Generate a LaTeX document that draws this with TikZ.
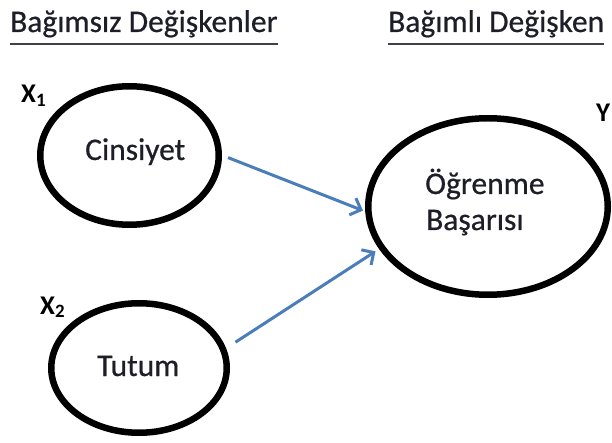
\documentclass[tikz,border=0pt]{standalone}
\usepackage{fontspec}
\setmainfont{Carlito}[FakeBold=0.6,BoldFont=Carlito Bold,BoldFeatures={FakeBold=0}]
\usetikzlibrary{shapes.geometric,arrows.meta}
\definecolor{arrblue}{RGB}{74,126,187}
\definecolor{txtdark}{RGB}{30,30,40}
\begin{document}
\begin{tikzpicture}[x=1pt,y=-1pt,
  ell/.style={draw=black,line width=6.5pt,ellipse,inner sep=0pt,outer sep=0pt},
  txt/.style={inner sep=0pt,anchor=base west,text=txtdark,font=\fontsize{31.5}{36}\selectfont},
  hdr/.style={inner sep=0pt,anchor=base west,text=txtdark,font=\fontsize{31.5}{36}\selectfont},
  lab/.style={inner sep=0pt,anchor=base west,text=black,font=\bfseries\fontsize{27}{30}\selectfont},
  uline/.style={draw=txtdark!85,line width=2.5pt},
  arr/.style={draw=arrblue,line width=3pt,-{Straight Barb[length=9pt,width=18pt,line width=3pt]}}]
\useasboundingbox (0,0) rectangle (612,443);
% headers
\node[hdr] (h1) at (10,32) {Bağımsız Değişkenler};
\node[hdr] (h2) at (388,32) {Bağımlı Değişken};
\draw[uline] ([yshift=-12pt]h1.base west) -- ([yshift=-12pt]h1.base east);
\draw[uline] ([yshift=-12pt]h2.base west) -- ([yshift=-12pt]h2.base east);
% ellipses
\node[ell,minimum width=178.5pt,minimum height=138.5pt] (e1) at (129.5,155.5) {};
\node[ell,minimum width=175.5pt,minimum height=129.5pt] (e2) at (139,368) {};
\node[ell,minimum width=239.5pt,minimum height=176.5pt] (e3) at (488,206.5) {};
% texts
\node[txt] (t1) at (85,160) {Cinsiyet};
\node[txt] (t2) at (97,376) {Tutum};
\node[txt] (t3a) at (425,194) {Öğrenme};
\node[txt] (t3b) at (426,230) {Başarısı};
% labels
\node[lab] (x1) at (21,103) {X\textsubscript{1}};
\node[lab] (x2) at (40,314) {X\textsubscript{2}};
\node[lab] (yl) at (596,122) {Y};
% arrows
\draw[arr,shorten <=10pt,shorten >=6pt] (e1.1) -- (e3.183);
\draw[arr,shorten <=14.5pt,shorten >=7.5pt] (e2.12) -- (e3.201);
\end{tikzpicture}
\end{document}
